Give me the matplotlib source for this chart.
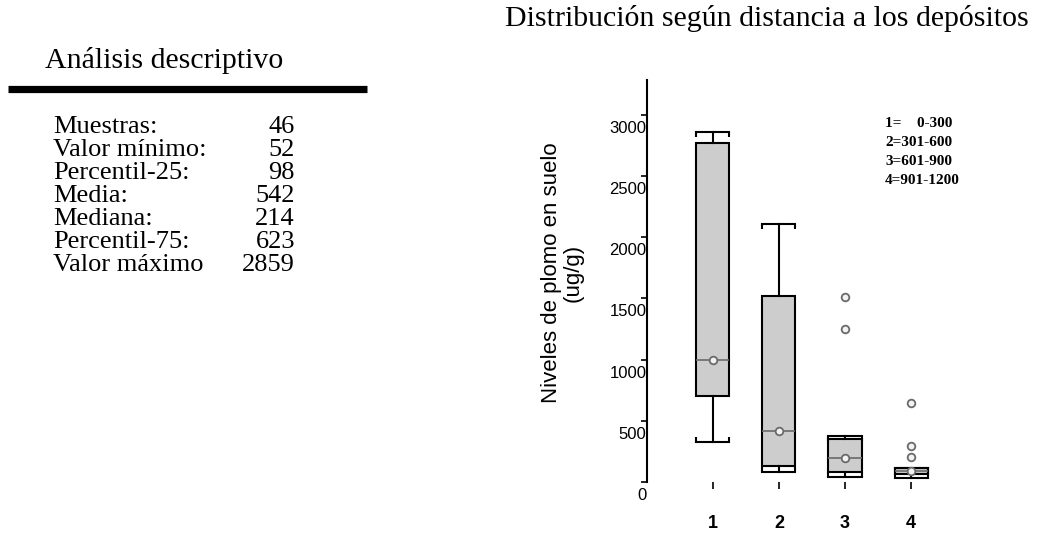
import matplotlib.pyplot as plt
from matplotlib.transforms import ScaledTranslation

# Descriptive statistics table
stat_names = ["Muestras:", "Valor mínimo:", "Percentil-25:", "Media:",
              "Mediana:", "Percentil-75:", "Valor máximo"]
stat_values = [46, 52, 98, 542, 214, 623, 2859]

# Box plot summaries per distance band
groups = [1, 2, 3, 4]
whisk_lo = [329, 84, 43, 30]
q1 = [702, 133, 84, 65]
medians = [997, 419, 198, 92]
q3 = [2767, 1519, 351, 112]
whisk_hi = [2859, 2107, 378, 112]
fliers = [[], [], [1514, 1252], [648, 297, 202]]

band_labels = ["1=    0-300", "2=301-600", "3=601-900", "4=901-1200"]

serif = "Liberation Serif"
sans = "Liberation Sans"

fig = plt.figure(figsize=(10.42, 5.37), dpi=100)

# left block: table
fig.text(45 / 1042, 1 - 60 / 537, "Análisis descriptivo", family=serif,
         fontsize=21.5, ha="left", va="center")
fig.add_artist(plt.Line2D([8 / 1042, 367 / 1042], [1 - 89 / 537] * 2,
                          color="black", lw=5.2, solid_capstyle="butt"))
for i, (name, val) in enumerate(zip(stat_names, stat_values)):
    y = 1 - (127 + i * 23.05) / 537
    fig.text(53 / 1042, y, name, family=serif, fontsize=19, ha="left", va="center")
    fig.text(295 / 1042, y, str(val), family=serif, fontsize=19, ha="right", va="center")

# right block: box plot
fig.text(767 / 1042, 1 - 18 / 537, "Distribución según distancia a los depósitos",
         family=serif, fontsize=21.5, ha="center", va="center")

ax = fig.add_axes([646.7 / 1042, 55 / 537, 330.5 / 1042, 402 / 537])
ymax = 3283
ax.set_xlim(0, 5)
ax.set_ylim(0, ymax)

width = 0.5
stats = []
for i in range(len(groups)):
    stats.append(dict(med=medians[i], q1=q1[i], q3=q3[i], whislo=whisk_lo[i],
                      whishi=whisk_hi[i], fliers=fliers[i]))

ax.bxp(stats, positions=groups, widths=width, capwidths=width, patch_artist=True,
       manage_ticks=False,
       boxprops=dict(facecolor="#cdcdcd", edgecolor="black", linewidth=1.5),
       whiskerprops=dict(color="black", linewidth=1.5),
       capprops=dict(color="black", linewidth=1.5),
       medianprops=dict(color="#6a6a6a", linewidth=1.2),
       flierprops=dict(marker="o", markerfacecolor="#f2f2f2", markeredgecolor="#6a6a6a",
                       markersize=5.5, markeredgewidth=1.3))

# short hooks at the ends of the caps, turned toward the box
hook = 5 * ymax / 402
for p, lo, hi in zip(groups, whisk_lo, whisk_hi):
    for x in (p - width / 2, p + width / 2):
        ax.plot([x, x], [hi, hi - hook], color="black", lw=1.5, solid_capstyle="butt")
        ax.plot([x, x], [lo, lo + hook], color="black", lw=1.5, solid_capstyle="butt")

ax.plot(groups, medians, "o", mfc="#f2f2f2", mec="#6a6a6a", ms=5.5, mew=1.3, zorder=5)

for s in ("top", "right", "bottom"):
    ax.spines[s].set_visible(False)
ax.spines["left"].set_linewidth(1.5)

ax.set_yticks(range(0, 3001, 500))
ax.set_yticklabels([str(v) for v in range(0, 3001, 500)], family=sans, fontsize=12)
ax.tick_params(axis="y", length=4.5, width=1.2, pad=0)
shift = ScaledTranslation(6 / 100, -12 / 100, fig.dpi_scale_trans)
for lbl in ax.get_yticklabels():
    lbl.set_transform(lbl.get_transform() + shift)

ax.set_xticks(groups)
ax.set_xticklabels([str(g) for g in groups], family=sans, fontsize=13, fontweight="bold")
ax.tick_params(axis="x", length=5, width=1.2, pad=19)

fig.text(562 / 1042, 1 - 273 / 537, "Niveles de plomo en suelo\n(ug/g)", family=sans,
         fontsize=16, rotation=90, ha="center", va="center", multialignment="center",
         linespacing=1.05)

for i, lab in enumerate(band_labels):
    fig.text(885 / 1042, 1 - (123.3 + i * 19.1) / 537, lab, family=serif,
             fontsize=11, fontweight="bold", ha="left", va="center")

fig.savefig("out.png", dpi=100)
